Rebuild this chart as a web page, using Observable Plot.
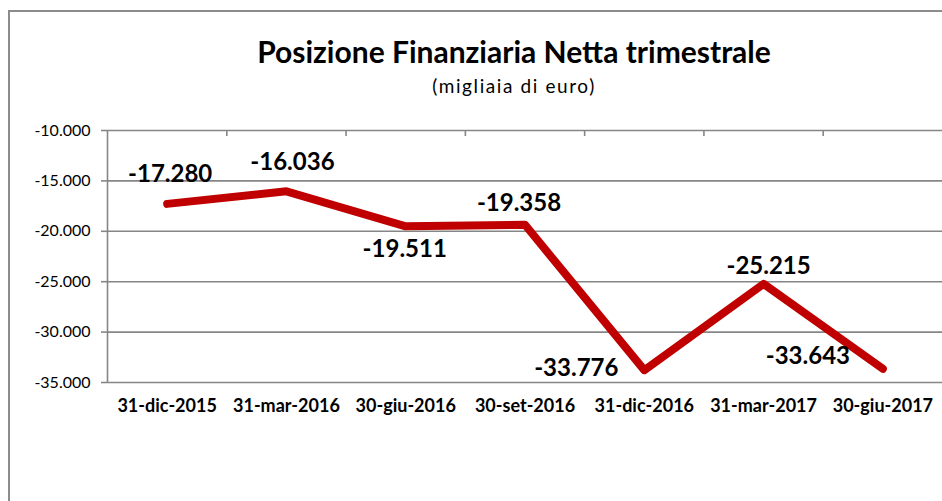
<!DOCTYPE html>
<html>
<head>
<meta charset="utf-8">
<script src="https://cdn.jsdelivr.net/npm/d3@7"></script>
<script src="https://cdn.jsdelivr.net/npm/@observablehq/plot@0.6"></script>
<style>
  html, body { margin: 0; padding: 0; background: #fff; overflow: hidden; }
  body { width: 942px; height: 501px; position: relative; font-family: Lato, "Open Sans", sans-serif; }
  #frame { position: absolute; left: 8px; top: 10px; width: 1200px; height: 800px; border: 2px solid #8c8c8c; box-sizing: border-box; }
  #title { position: absolute; left: 0; width: 1028px; top: 36px; text-align: center; font-size: 30px; font-weight: bold; line-height: 1; color: #000; }
  #subtitle { position: absolute; left: 0; width: 1028px; top: 76px; text-align: center; font-size: 19px; letter-spacing: 1.6px; line-height: 1; color: #000; }
  #chart { position: absolute; left: 0; top: 0; }
</style>
</head>
<body>
<div id="frame"></div>
<div id="chart"></div>
<div id="title">Posizione Finanziaria Netta trimestrale</div>
<div id="subtitle">(migliaia di euro)</div>
<script>
const dates = ["31-dic-2015", "31-mar-2016", "30-giu-2016", "30-set-2016", "31-dic-2016", "31-mar-2017", "30-giu-2017"];
const values = [-17280, -16036, -19511, -19358, -33776, -25215, -33643];
const yTicks = [-10000, -15000, -20000, -25000, -30000, -35000];

// label offsets in pixels (layout only)
const labelOffsets = [[3, -30], [6, -29], [-1, 23], [-6, -22], [-68, -2], [5, -18], [-75, -13]];

const locale = d3.formatLocale({decimal: ",", thousands: ".", grouping: [3], currency: ["", "€"], minus: "-"});
const fmt = locale.format(",d");

const idx = d3.range(dates.length);
const data = idx.map(i => ({i, v: values[i], label: fmt(values[i])}));
const bounds = idx.slice(0, -1).map(i => i + 0.5);
const gray = "#868686";

const texts = data.map((d, k) => Plot.text([d], {
  x: "i", y: "v", text: "label",
  dx: labelOffsets[k][0], dy: labelOffsets[k][1],
  fontSize: 24, fontWeight: "bold", fill: "#000"
}));

const chart = Plot.plot({
  width: 942, height: 501,
  marginTop: 130, marginBottom: 119, marginLeft: 107, marginRight: 0,
  x: {domain: [-0.5, 6.5]},
  y: {domain: [-35000, -10000]},
  style: {fontFamily: "Lato, 'Open Sans', sans-serif", background: "transparent", color: "#000"},
  marks: [
    Plot.gridY(yTicks, {stroke: gray, strokeOpacity: 1, strokeWidth: 1.6}),
    Plot.axisY({ticks: yTicks, tickSize: 6, tickPadding: 11, tickFormat: fmt, fontSize: 16, stroke: gray, strokeWidth: 1.6, label: null}),
    Plot.ruleX([-0.5], {stroke: gray, strokeWidth: 1.6}),
    Plot.axisX({anchor: "top", ticks: bounds, tickSize: -5, tickFormat: () => "", stroke: gray, strokeWidth: 1.6, label: null}),
    Plot.axisX({anchor: "bottom", ticks: idx, tickSize: 0, tickPadding: 17, tickFormat: i => dates[i], fontSize: 18, fontWeight: "bold", label: null}),
    Plot.line(data, {x: "i", y: "v", stroke: "#c00000", strokeWidth: 8, strokeLinecap: "round", strokeLinejoin: "round"}),
    ...texts
  ]
});
document.getElementById("chart").appendChild(chart);
</script>
</body>
</html>
